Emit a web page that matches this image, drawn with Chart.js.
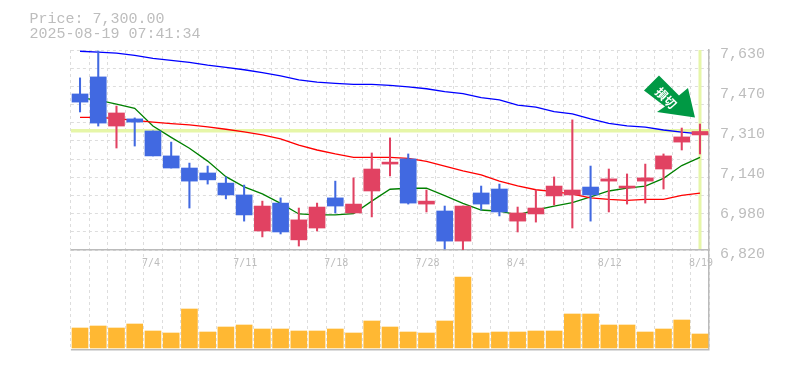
<!DOCTYPE html>
<html>
<head>
<meta charset="utf-8">
<title>Price chart</title>
<script src="https://cdn.jsdelivr.net/npm/chart.js@4/dist/chart.umd.min.js"></script>
<style>
  body { margin: 0; background: #fff; }
  canvas { display: block; }
</style>
</head>
<body>
<canvas id="priceChart" width="785" height="370"></canvas>
<script>
const dates = ['6/30','7/1','7/2','7/3','7/4','7/7','7/8','7/9','7/10','7/11','7/14','7/15','7/16','7/17','7/18','7/22','7/23','7/24','7/25','7/28','7/29','7/30','7/31','8/1','8/4','8/5','8/6','8/7','8/8','8/12','8/13','8/14','8/15','8/18','8/19'];
const dateLabels = ['7/4','7/11','7/18','7/28','8/4','8/12','8/19'];

const opens = [7452,7521,7322,7351,7302,7201,7152,7132,7091,7043,6897,7010,6861,6909,7031,6970,7059,7168,7189,7006,6978,6856,7051,7067,6937,6966,7039,7043,7075,7099,7071,7099,7148,7257,7286];
const closes = [7419,7334,7375,7338,7201,7152,7099,7104,7043,6962,6998,6893,6942,6994,6998,7006,7148,7176,7010,7018,6856,6998,7006,6974,6970,6990,7079,7063,7043,7108,7079,7112,7201,7278,7300];
const highs = [7517,7626,7403,7355,7302,7257,7172,7160,7116,7083,7018,7031,6990,7010,7099,7112,7213,7274,7209,7063,6998,6998,7079,7087,6994,7063,7116,7347,7160,7148,7128,7168,7209,7314,7330];
const lows = [7379,7322,7233,7241,7201,7152,6990,7087,7027,6937,6873,6885,6836,6897,6970,6970,6954,7120,7006,6974,6824,6820,6982,6958,6893,6933,7002,6909,6937,6974,7006,7010,7067,7225,7209];

const longAverage = [7625,7621,7617,7608,7596,7588,7580,7569,7560,7550,7538,7525,7509,7500,7495,7491,7491,7487,7481,7473,7461,7453,7437,7428,7407,7399,7380,7371,7351,7333,7323,7318,7306,7297,7290];
const midAverage = [7357,7357,7352,7345,7338,7332,7327,7319,7309,7298,7286,7270,7245,7225,7209,7195,7195,7195,7191,7179,7160,7140,7124,7099,7080,7064,7056,7046,7031,7025,7021,7025,7025,7041,7050];
const shortAverage = [7436,7427,7411,7394,7322,7276,7232,7180,7117,7076,7047,7009,6966,6962,6962,6967,7018,7066,7070,7070,7040,7009,6982,6977,6962,6982,6998,7012,7035,7059,7071,7079,7110,7162,7195];

const volumes = [200,220,200,240,170,150,390,160,210,230,190,190,170,170,190,150,270,210,160,150,270,710,150,160,160,170,170,340,340,230,230,160,190,280,140];

const priceTicks = [7630,7468,7306,7144,6982,6820];
const priceMin = 6820;
const priceMax = 7630;
const gridDivisions = 11;
const volumeMin = -20;
const volumeMax = 980;

const currentPrice = 7300;
const headerLines = ['Price: 7,300.00', '2025-08-19 07:41:34'];
const signalText = '損切';

const RED = '#E14262';
const BLUE = '#4169E1';
const GRID = '#DDDDDD';
const FRAME = '#BBBBBB';
const HIGHLIGHT = '#E6F6A8';
const TEXT = '#BDBDBD';

// Grid lines do not share the spacing of the price labels
const gridTicks = [];
for (let i = 0; i <= gridDivisions; i++) {
  gridTicks.push(priceMax - (priceMax - priceMin) * i / gridDivisions);
}

const candleColors = closes.map((close, i) => close >= opens[i] ? RED : BLUE);

// Yellow cross on the latest price and date, under the candles
const highlightPlugin = {
  id: 'highlight',
  beforeDatasetsDraw(chart) {
    const { ctx, scales } = chart;
    const y = Math.round(scales.y.getPixelForValue(currentPrice)) - 0.5;
    const x = Math.round(scales.x.getPixelForValue(dates.length - 1));
    ctx.save();
    ctx.fillStyle = HIGHLIGHT;
    ctx.fillRect(scales.x.left, y - 1.5, scales.x.right - scales.x.left, 3.5);
    ctx.fillRect(x - 1.5, scales.y.top, 3, scales.y.bottom - scales.y.top - 1);
    ctx.restore();
  }
};

// Header text and the green arrow sign pointing at the last candle
const overlayPlugin = {
  id: 'overlay',
  afterDraw(chart) {
    const { ctx, scales } = chart;
    ctx.save();
    ctx.fillStyle = TEXT;
    ctx.font = '15px "Liberation Mono"';
    ctx.fillText(headerLines[0], 29.5, 23);
    ctx.fillText(headerLines[1], 29.5, 37.5);

    const tipX = scales.x.getPixelForValue(dates.length - 1) - 5;
    const tipY = scales.y.getPixelForValue(currentPrice) - 14;
    const outline = [[-36, -42], [-16, -22], [-7, -29.5], [0, 0], [-38, -5.5], [-30, -11], [-51, -27]];
    ctx.fillStyle = '#009944';
    ctx.beginPath();
    outline.forEach(([dx, dy], i) => {
      if (i === 0) ctx.moveTo(tipX + dx, tipY + dy);
      else ctx.lineTo(tipX + dx, tipY + dy);
    });
    ctx.closePath();
    ctx.fill();

    ctx.translate(tipX - 29, tipY - 19.5);
    ctx.rotate(Math.PI / 4);
    ctx.fillStyle = '#fff';
    ctx.font = 'bold 12px "Noto Sans CJK JP"';
    ctx.textAlign = 'center';
    ctx.textBaseline = 'middle';
    ctx.fillText(signalText, 0, 0);
    ctx.restore();
  }
};

function lineDataset(data, color) {
  return {
    type: 'line',
    data,
    borderColor: color,
    borderWidth: 1.3,
    pointRadius: 0,
    tension: 0,
    yAxisID: 'y',
    order: 3
  };
}

function createPriceChart() {
  const ctx = document.getElementById('priceChart').getContext('2d');

  new Chart(ctx, {
    data: {
      labels: dates,
      datasets: [
        lineDataset(longAverage, '#0000FF'),
        lineDataset(midAverage, '#FF0000'),
        lineDataset(shortAverage, '#008000'),
        {
          type: 'bar',
          data: highs.map((high, i) => [lows[i], high]),
          backgroundColor: candleColors,
          barThickness: 1.4,
          grouped: false,
          yAxisID: 'y',
          order: 2
        },
        {
          type: 'bar',
          data: opens.map((open, i) => [open, closes[i]]),
          backgroundColor: candleColors,
          barThickness: 16,
          grouped: false,
          yAxisID: 'y',
          order: 1
        },
        {
          type: 'bar',
          data: volumes,
          backgroundColor: '#FFB833',
          barThickness: 16,
          grouped: false,
          yAxisID: 'yVolume',
          order: 4
        }
      ]
    },
    options: {
      responsive: false,
      animation: false,
      layout: { padding: { left: 70.9, top: 50, right: 0, bottom: 20 } },
      plugins: {
        legend: { display: false },
        tooltip: { enabled: false }
      },
      scales: {
        x: {
          position: { yVolume: volumeMax },
          offset: true,
          grid: { color: GRID, drawTicks: false, offset: true },
          border: { display: false, dash: [3, 3] },
          ticks: {
            autoSkip: false,
            maxRotation: 0,
            minRotation: 0,
            align: 'start',
            labelOffset: -11,
            padding: 7,
            color: TEXT,
            font: { family: '"DejaVu Sans Mono"', size: 10 },
            callback(value) {
              const label = this.getLabelForValue(value);
              return dateLabels.includes(label) ? label : '';
            }
          }
        },
        y: {
          position: 'right',
          stack: 'panels',
          stackWeight: 2,
          weight: 1,
          min: priceMin,
          max: priceMax,
          afterFit(scale) { scale.width = 75.9; },
          afterBuildTicks(scale) {
            scale.ticks = [...new Set([...priceTicks, ...gridTicks])].map(value => ({ value }));
          },
          grid: {
            drawTicks: false,
            color: context => gridTicks.includes(context.tick.value) ? GRID : 'transparent'
          },
          border: { display: true, color: FRAME, width: 1.5, dash: [3, 3] },
          ticks: {
            autoSkip: false,
            padding: 11,
            labelOffset: 4.5,
            color: TEXT,
            font: { family: '"Liberation Mono"', size: 15 },
            callback(value) {
              return priceTicks.includes(value) ? (Math.round(value / 10) * 10).toLocaleString('en-US') : '';
            }
          }
        },
        yVolume: {
          position: 'right',
          stack: 'panels',
          stackWeight: 1,
          weight: 2,
          min: volumeMin,
          max: volumeMax,
          afterFit(scale) { scale.width = 75.9; },
          afterBuildTicks(scale) {
            scale.ticks = [{ value: volumeMin }, { value: volumeMax }];
          },
          grid: { drawTicks: false, color: FRAME, lineWidth: 1.5 },
          border: { display: true, color: FRAME, width: 1.5 },
          ticks: { display: false }
        }
      }
    },
    plugins: [highlightPlugin, overlayPlugin]
  });
}

document.addEventListener('DOMContentLoaded', createPriceChart);
</script>
</body>
</html>
